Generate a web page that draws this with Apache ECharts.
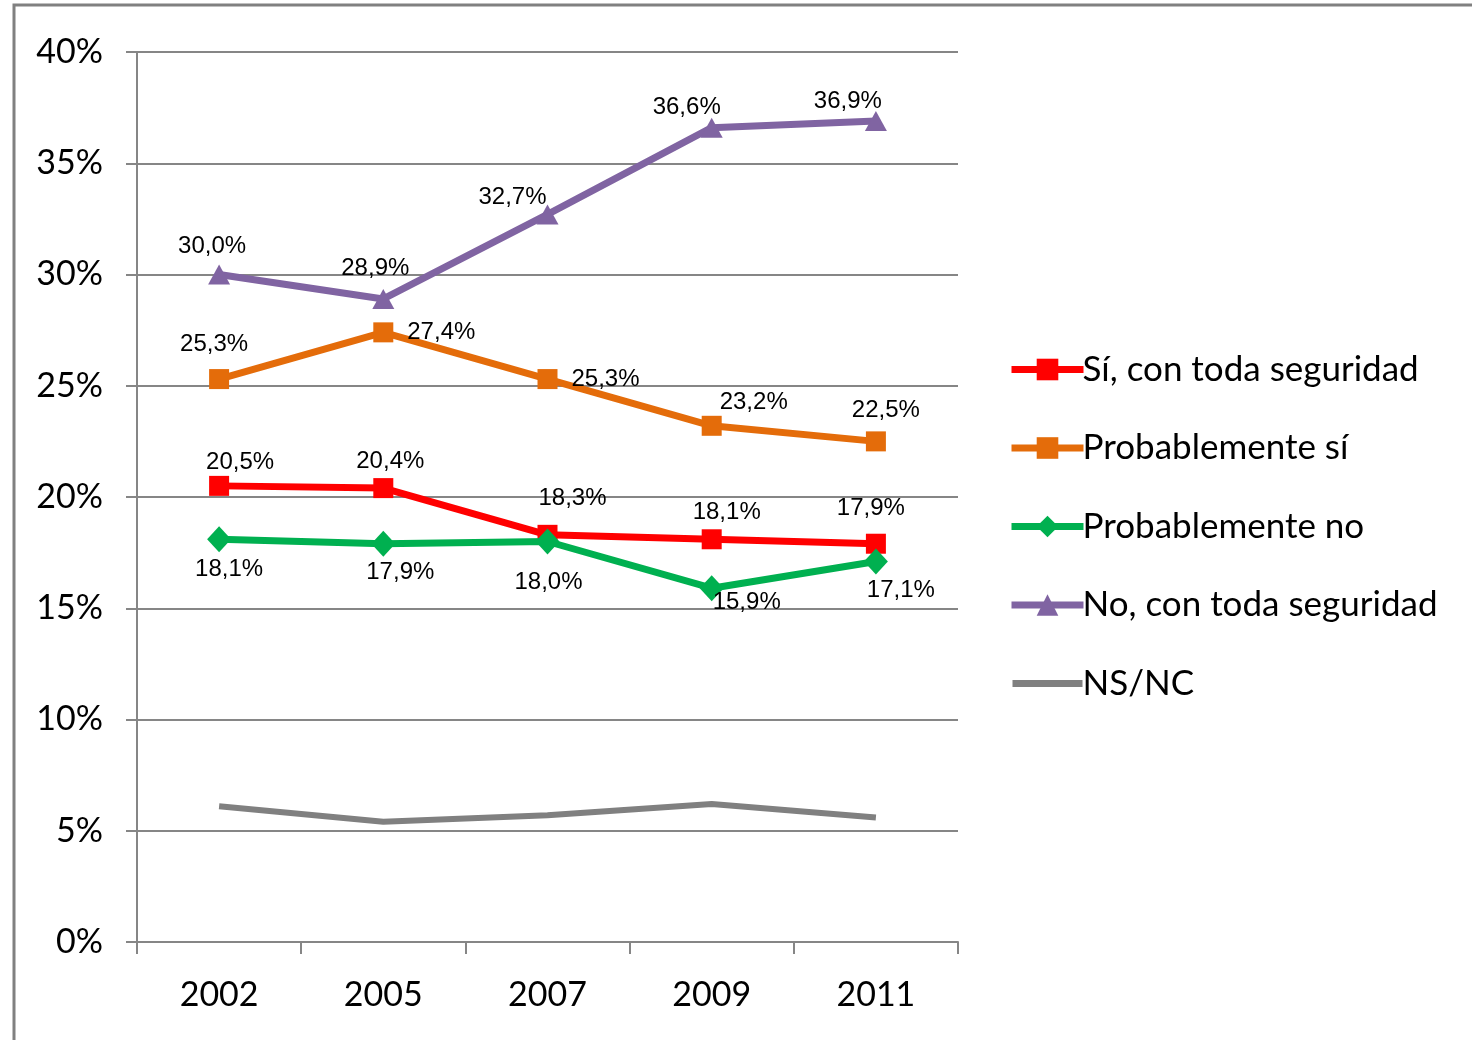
<!DOCTYPE html>
<html>
<head>
<meta charset="utf-8">
<script src="https://cdn.jsdelivr.net/npm/echarts@6/dist/echarts.min.js"></script>
<style>
html,body{margin:0;padding:0;background:#fff;}
#chart{width:1472px;height:1040px;}
</style>
</head>
<body>
<div id="chart"></div>
<script>
const categories = ['2002', '2005', '2007', '2009', '2011'];
const siSeguro = [20.5, 20.4, 18.3, 18.1, 17.9];
const probSi = [25.3, 27.4, 25.3, 23.2, 22.5];
const probNo = [18.1, 17.9, 18.0, 15.9, 17.1];
const noSeguro = [30.0, 28.9, 32.7, 36.6, 36.9];
const nsnc = [6.1, 5.4, 5.7, 6.2, 5.6];
const yTicks = [0, 5, 10, 15, 20, 25, 30, 35, 40];

const labelFont = "'Liberation Sans', Arial, sans-serif";
const mainFont = "Lato, 'Open Sans', sans-serif";

function fmt(v) { return v.toFixed(1).replace('.', ',') + '%'; }

function withLabels(values, offsets) {
  return values.map((v, i) => ({
    value: v,
    label: {
      show: true,
      position: 'inside',
      offset: offsets[i],
      formatter: fmt(v),
      fontFamily: labelFont,
      fontSize: 24,
      color: '#000',
      align: 'center',
      verticalAlign: 'middle'
    }
  }));
}

const lineIcon = 'path://M0,0 M0,10 L70,10 L70,17 L0,17 Z M70,27';

const chart = echarts.init(document.getElementById('chart'));
chart.setOption({
  backgroundColor: '#fff',
  animation: false,
  graphic: [{
    type: 'polyline',
    shape: { points: [[14, 1040], [14, 5], [1472, 5]] },
    style: { stroke: '#808080', lineWidth: 3, fill: null }
  }],
  grid: { left: 137, right: 514, top: 52, bottom: 98 },
  legend: {
    orient: 'vertical',
    left: 1003,
    top: 347,
    itemWidth: 72,
    itemHeight: 27,
    itemGap: 43.5,
    lineStyle: { width: 7 },
    textStyle: { fontFamily: mainFont, fontSize: 35, color: '#000', padding: [0, 0, 0, -6] },
    data: [
      'Sí, con toda seguridad', 'Probablemente sí', 'Probablemente no', 'No, con toda seguridad',
      { name: 'NS/NC', icon: lineIcon }
    ]
  },
  xAxis: {
    type: 'category',
    data: categories,
    boundaryGap: true,
    axisLine: { lineStyle: { color: '#868686', width: 2 } },
    axisTick: { show: true, length: 12, lineStyle: { color: '#868686', width: 2 } },
    axisLabel: { fontFamily: mainFont, fontSize: 34, color: '#000', margin: 36 }
  },
  yAxis: {
    type: 'value',
    min: 0,
    max: 40,
    interval: 5,
    axisLine: { show: true, lineStyle: { color: '#868686', width: 2 } },
    axisTick: { show: true, length: 11, lineStyle: { color: '#868686', width: 2 } },
    splitLine: { lineStyle: { color: '#868686', width: 2 } },
    axisLabel: {
      fontFamily: mainFont, fontSize: 34, color: '#000', margin: 34,
      formatter: v => yTicks.includes(v) ? v + '%' : ''
    }
  },
  series: [
    {
      name: 'Sí, con toda seguridad', type: 'line', z: 4,
      data: withLabels(siSeguro, [[21, -24], [7, -27], [25, -36], [15, -27], [-5, -35]]),
      symbol: 'rect', symbolSize: 20,
      itemStyle: { color: '#FF0000' },
      lineStyle: { color: '#FF0000', width: 7 }
    },
    {
      name: 'Probablemente sí', type: 'line', z: 4,
      data: withLabels(probSi, [[-5, -35], [58, 0], [58, 0], [42, -23], [10, -31]]),
      symbol: 'rect', symbolSize: 20,
      itemStyle: { color: '#E46C0A' },
      lineStyle: { color: '#E46C0A', width: 7 }
    },
    {
      name: 'Probablemente no', type: 'line', z: 5,
      data: withLabels(probNo, [[10, 30], [17, 29], [1, 41], [35, 14], [25, 29]]),
      symbol: 'diamond', symbolSize: [24, 26],
      itemStyle: { color: '#00B050' },
      lineStyle: { color: '#00B050', width: 7 }
    },
    {
      name: 'No, con toda seguridad', type: 'line', z: 4,
      data: withLabels(noSeguro, [[-7, -28], [-8, -31], [-35, -17], [-25, -20], [-28, -20]]),
      symbol: 'triangle', symbolSize: [22, 20],
      itemStyle: { color: '#8064A2' },
      lineStyle: { color: '#8064A2', width: 7 }
    },
    {
      name: 'NS/NC', type: 'line', z: 3,
      data: nsnc,
      symbol: 'none',
      itemStyle: { color: '#808080' },
      lineStyle: { color: '#808080', width: 6 }
    }
  ]
});
</script>
</body>
</html>
